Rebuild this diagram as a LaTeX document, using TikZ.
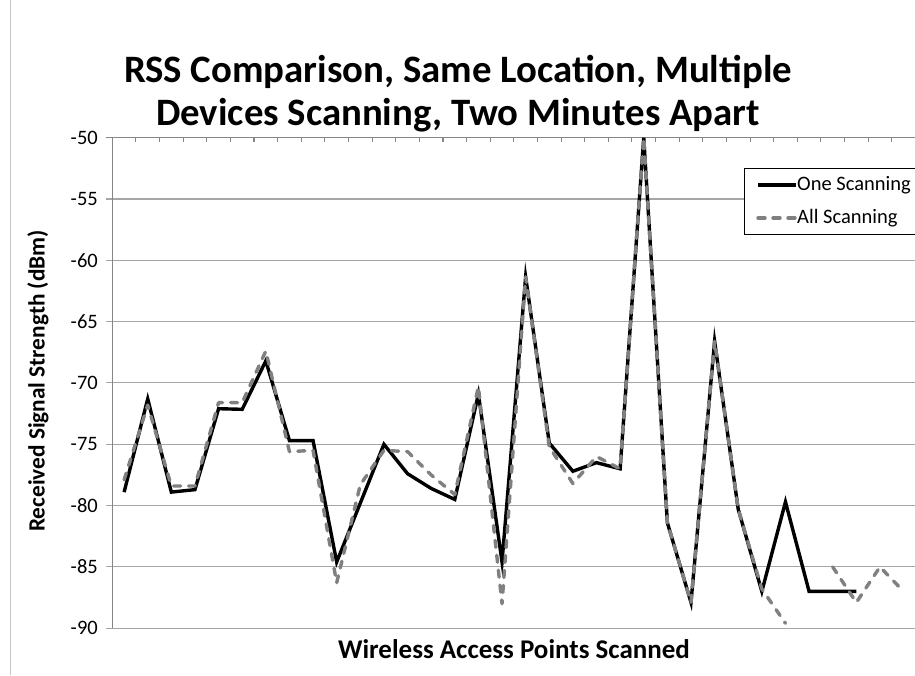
\documentclass[tikz,border=0pt]{standalone}
\usepackage{fontspec}
\setmainfont{Carlito}
\definecolor{axisgray}{HTML}{868686}
\definecolor{gridgray}{HTML}{A6A6A6}
\definecolor{borderline}{HTML}{C8C8C8}
\definecolor{seriesgray}{HTML}{808080}
\tikzset{
  gridline/.style={draw=gridgray, line width=1.1pt},
  axisline/.style={draw=axisgray, line width=1.1pt},
  ticklabel/.style={anchor=east, inner sep=0pt, font=\fontsize{20.5}{24}\selectfont},
  titletext/.style={inner sep=0pt, font=\fontsize{38.8}{44}\selectfont\bfseries},
  xtitle/.style={inner sep=0pt, font=\fontsize{27}{30}\selectfont\bfseries},
  ytitle/.style={inner sep=0pt, font=\fontsize{23.3}{26}\selectfont\bfseries},
  legendtext/.style={anchor=west, inner sep=0pt, font=\fontsize{20.5}{24}\selectfont},
  oneline/.style={draw=black, line width=3.4pt, line join=miter},
  allline/.style={draw=seriesgray, line width=3.4pt, line cap=round, line join=round, dash pattern=on 7pt off 8pt},
}
\begin{document}
\begin{tikzpicture}[x=1pt,y=-1pt]
\useasboundingbox (0,0) rectangle (915,675);
\clip (0,0) rectangle (915,675);
\fill[white] (0,0) rectangle (915,675);
% chart border (left)
\draw[borderline, line width=1pt] (10,0) -- (10,675);
% title
\node[titletext] (t1) at (458,72) {RSS Comparison, Same Location, Multiple};
\node[titletext] (t2) at (458,115) {Devices Scanning, Two Minutes Apart};
% gridlines and ticks
\foreach \v [count=\i from 0] in {-50,-55,-60,-65,-70,-75,-80,-85,-90}{
  \pgfmathsetmacro{\yy}{137.7+\i*61.3}
  \draw[gridline] (105.7,\yy) -- (930,\yy);
  \node[ticklabel] (yl\i) at (98,\yy) {\v};
}
% top (category) axis with ticks
\draw[axisline] (105.7,137.7) -- (930,137.7);
\foreach \k in {1,...,34}{
  \draw[axisline] (112.3+\k*23.62,137.7) -- (112.3+\k*23.62,142);
}
% vertical axis
\draw[axisline] (112.3,137.7) -- (112.3,628.3);
% axis titles
\node[ytitle, rotate=90] (ylab) at (38,381) {Received Signal Strength (dBm)};
\node[xtitle] (xlab) at (514,649) {Wireless Access Points Scanned};
% data
\begin{scope}[shift={(124.1,137.7)}, x=23.62pt, y=12.2625pt]
\draw[oneline] plot coordinates {
 (0,-28.9) (1,-21.3) (2,-28.9) (3,-28.7) (4,-22.1) (5,-22.15) (6,-18.2)
 (7,-24.7) (8,-24.7) (9,-34.6) (10,-29.8) (11,-25.0) (12,-27.4) (13,-28.6)
 (14,-29.5) (15,-20.9) (16,-34.6) (17,-11.35) (18,-24.9) (19,-27.2) (20,-26.5)
 (21,-27.0) (22,0) (23,-31.4) (24,-37.9) (25,-16.6) (26,-30.3) (27,-37.0)
 (28,-29.7) (29,-37.0) (30,-37.0) (31,-37.0)};
\draw[allline] plot coordinates {
 (0,-27.9) (1,-21.8) (2,-28.4) (3,-28.4) (4,-21.6) (5,-21.6) (6,-17.4)
 (7,-25.6) (8,-25.5) (9,-36.3) (10,-28.3) (11,-25.5) (12,-25.6) (13,-27.5)
 (14,-29.1) (15,-20.3) (16,-38.0) (17,-11.35) (18,-25.2) (19,-28.2) (20,-26.0)
 (21,-27.0) (22,0) (23,-31.4) (24,-37.9) (25,-16.6) (26,-30.3) (27,-36.8)
 (28,-39.6)};
\draw[allline] plot coordinates {(30,-35.0) (31,-37.9) (32,-35.0) (33,-37.0)};
\end{scope}
% legend
\draw[draw=black, fill=white, line width=0.9pt] (744.3,168.3) rectangle (940,234);
\coordinate (l1a) at (758,185);
\coordinate (l1b) at (796,185);
\coordinate (l2a) at (758,218);
\coordinate (l2b) at (796,218);
\draw[oneline] (l1a) -- (l1b);
\draw[allline] (l2a) -- (l2b);
\node[legendtext] (lg1) at (797,185) {One Scanning};
\node[legendtext] (lg2) at (797,218) {All Scanning};
\end{tikzpicture}
\end{document}
